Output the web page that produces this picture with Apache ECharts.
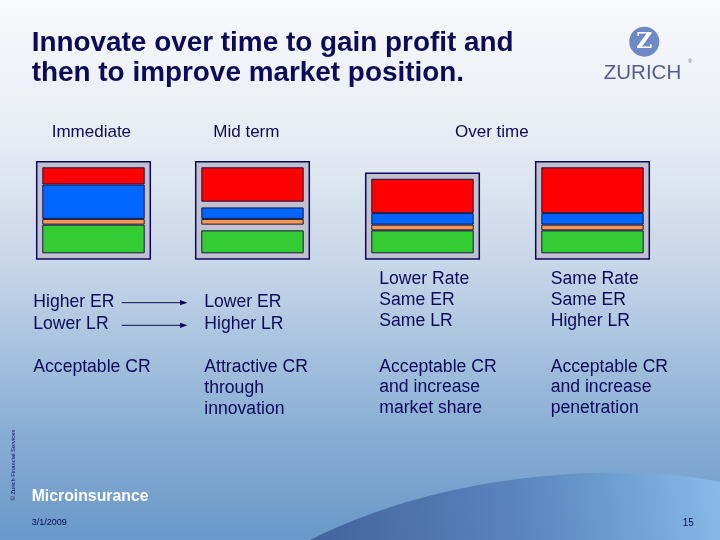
<!DOCTYPE html>
<html>
<head>
<meta charset="utf-8">
<script src="https://cdn.jsdelivr.net/npm/echarts@6/dist/echarts.min.js"></script>
<style>
html,body{margin:0;padding:0;background:#fff;}
#chart{width:720px;height:540px;}
</style>
</head>
<body>
<div id="chart"></div>
<script>
// ---- data (stacked segment heights per box, bottom to top) ----
const categories = ['Immediate', 'Mid term', 'Over time', 'Over time later'];
const green   = [5, 4, 4, 4];
const gapLow  = [0, 1, 0, 0];
const orange  = [1, 1, 1, 1];
const blue    = [6, 2, 2, 2];
const gapHigh = [0, 1, 0, 0];
const red     = [3, 6, 6, 8];
const axisMax = 15;

const titleLines = ['Innovate over time to gain profit and', 'then to improve market position.'];
const headers = ['Immediate', 'Mid term', 'Over time'];
const col1 = ['Higher ER', 'Lower LR', 'Acceptable CR'];
const col2 = ['Lower ER', 'Higher LR', 'Attractive CR', 'through', 'innovation'];
const col3 = ['Lower Rate', 'Same ER', 'Same LR', 'Acceptable CR', 'and increase', 'market share'];
const col4 = ['Same Rate', 'Same ER', 'Higher LR', 'Acceptable CR', 'and increase', 'penetration'];
const footerTitle = 'Microinsurance';
const footerDate = '3/1/2009';
const pageNo = '15';
const copyright = '\u00A9 Zurich Financial Services';

// ---- layout ----
const NAVY = '#0b0b58';
const FONT = "'Liberation Sans', Arial, Helvetica, sans-serif";
const innerLeft = [42.3, 201.3, 371.3, 541.3];
const innerWidth = 102.4;
const gridTop = 167.3, gridHeight = 86;
const PAD = 5.6;

const segs = [
  {name: 'green', data: green, color: '#33cc33'},
  {name: 'gapLow', data: gapLow, color: null},
  {name: 'orange', data: orange, color: '#f79a50'},
  {name: 'blue', data: blue, color: '#0066ff'},
  {name: 'gapHigh', data: gapHigh, color: null},
  {name: 'red', data: red, color: '#ff0000'}
];

const grids = [], xAxes = [], yAxes = [], series = [];
categories.forEach((c, i) => {
  grids.push({left: innerLeft[i], top: gridTop, width: innerWidth, height: gridHeight});
  xAxes.push({type: 'category', gridIndex: i, data: [c], show: false, boundaryGap: true});
  yAxes.push({type: 'value', gridIndex: i, min: 0, max: axisMax, show: false, splitLine: {show: false}});
  const total = segs.reduce((s, g) => s + g.data[i], 0);
  series.push({
    type: 'custom', xAxisIndex: i, yAxisIndex: i, z: 1, silent: true,
    data: [[0, total]],
    renderItem: function (params, api) {
      const x = api.value(0), t = api.value(1);
      const p0 = api.coord([x, 0]);
      const p1 = api.coord([x, t]);
      const w = api.size([1, 0])[0];
      return {
        type: 'rect',
        shape: {x: p0[0] - w / 2 - PAD, y: p1[1] - PAD, width: w + 2 * PAD, height: p0[1] - p1[1] + 2 * PAD},
        style: {fill: '#c1c0ce', stroke: '#0a0a5a', lineWidth: 1.5}
      };
    }
  });
  segs.forEach(g => {
    series.push({
      type: 'bar', name: g.name, xAxisIndex: i, yAxisIndex: i, stack: 'box' + i, z: 3,
      barWidth: '100%', silent: true,
      data: [g.data[i]],
      itemStyle: g.color ? {color: g.color, borderColor: '#16164a', borderWidth: 1}
                         : {color: 'rgba(0,0,0,0)', borderWidth: 0}
    });
  });
});

function txt(text, x, baseline, size, opts) {
  opts = opts || {};
  return {
    type: 'text', x: x, y: baseline - 0.36 * size, z: 20, silent: true,
    style: {
      text: text, fill: opts.fill || NAVY,
      font: (opts.bold ? 'bold ' : '') + size + 'px ' + (opts.family || FONT),
      align: opts.align || 'left', verticalAlign: 'middle'
    }
  };
}

// cubic bezier sampler for the decorative wave outline
function cubic(p0, p1, p2, p3, n) {
  const pts = [];
  for (let k = 0; k <= n; k++) {
    const t = k / n, u = 1 - t;
    pts.push([
      u*u*u*p0[0] + 3*u*u*t*p1[0] + 3*u*t*t*p2[0] + t*t*t*p3[0],
      u*u*u*p0[1] + 3*u*u*t*p1[1] + 3*u*t*t*p2[1] + t*t*t*p3[1]
    ]);
  }
  return pts;
}
const wavePts = cubic([310, 540], [380, 505], [470, 478], [590, 473], 30)
  .concat(cubic([590, 473], [650, 471], [690, 476], [720, 482], 20))
  .concat([[720, 540]]);

const g = [];
// background
g.push({
  type: 'rect', z: -20, silent: true, shape: {x: 0, y: 0, width: 720, height: 540},
  style: {fill: new echarts.graphic.LinearGradient(0, 0, 0, 1, [
    {offset: 0, color: '#f8f9fc'},
    {offset: 0.26, color: '#e7ecf4'},
    {offset: 0.5, color: '#c6d5e8'},
    {offset: 0.78, color: '#8cb0d6'},
    {offset: 1, color: '#6998c9'}
  ])}
});
// wave
g.push({
  type: 'polygon', z: -19, silent: true,
  shape: {points: wavePts},
  style: {fill: new echarts.graphic.LinearGradient(0, 1, 1, 0, [
    {offset: 0, color: '#42629a'},
    {offset: 0.55, color: '#5d88c0'},
    {offset: 1, color: '#88bbe8'}
  ])}
});
// title
g.push(txt(titleLines[0], 31.7, 53.3, 27.9, {bold: true}));
g.push(txt(titleLines[1], 31.7, 83.3, 27.9, {bold: true}));
// headers
g.push(txt(headers[0], 51.7, 138.3, 17));
g.push(txt(headers[1], 213.3, 138.3, 17));
g.push(txt(headers[2], 455, 138.3, 17));
// columns
const bl12 = [308.3, 330.7, 373.3, 394.5, 415.7];
col1.forEach((t, k) => g.push(txt(t, 33.3, bl12[k], 17.6)));
col2.forEach((t, k) => g.push(txt(t, 204.3, bl12[k], 17.6)));
const bl34 = [285, 306.7, 327.7, 373.3, 393.8, 414.3];
col3.forEach((t, k) => g.push(txt(t, 379.3, bl34[k], 17.6)));
col4.forEach((t, k) => g.push(txt(t, 550.7, bl34[k], 17.6)));
// arrows
[302.7, 325.3].forEach(y => {
  g.push({type: 'line', z: 20, silent: true, shape: {x1: 121.7, y1: y, x2: 182, y2: y}, style: {stroke: NAVY, lineWidth: 1}});
  g.push({type: 'polygon', z: 20, silent: true, shape: {points: [[180, y - 2.6], [187.5, y], [180, y + 2.6]]}, style: {fill: NAVY}});
});
// footer
g.push(txt(footerTitle, 31.7, 502.3, 15.8, {bold: true, fill: '#ffffff'}));
g.push(txt(footerDate, 31.7, 526, 9));
g.push(txt(pageNo, 682.7, 527.3, 10));
g.push({
  type: 'text', x: 13, y: 465, rotation: Math.PI / 2, z: 20, silent: true,
  style: {text: copyright, fill: NAVY, font: '5.8px ' + FONT, align: 'center', verticalAlign: 'middle'}
});
// logo
g.push({type: 'circle', z: 20, silent: true, shape: {cx: 644.3, cy: 41.7, r: 15}, style: {fill: '#6f89c5'}});
g.push({
  type: 'text', x: 644.3, y: 42, z: 21, silent: true,
  style: {text: 'Z', fill: '#ffffff', font: 'bold 22px "DejaVu Serif", serif', align: 'center', verticalAlign: 'middle'}
});
g.push(txt('ZURICH', 642.5, 80.7, 20.5, {fill: '#565c8e', align: 'center'}));
g.push({
  type: 'text', x: 690, y: 61.5, z: 21, silent: true,
  style: {text: '\u00AE', fill: '#5a6091', font: '5px ' + FONT, align: 'center', verticalAlign: 'middle'}
});

const chart = echarts.init(document.getElementById('chart'), null, {renderer: 'canvas'});
chart.setOption({
  animation: false,
  grid: grids,
  xAxis: xAxes,
  yAxis: yAxes,
  series: series,
  graphic: {elements: g}
});
</script>
</body>
</html>
